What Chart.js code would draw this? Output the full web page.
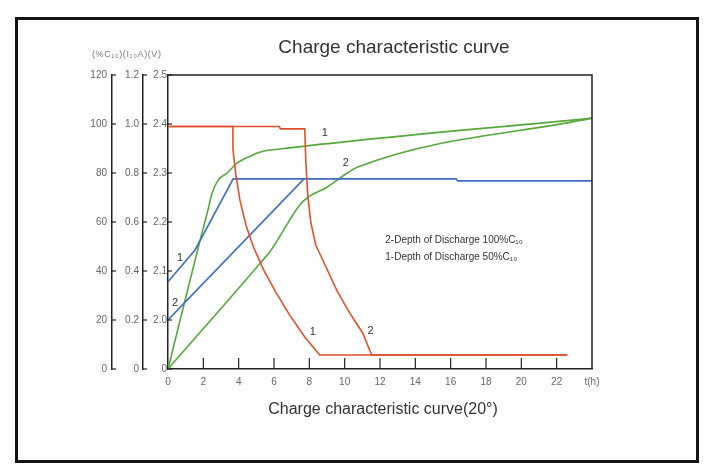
<!DOCTYPE html>
<html>
<head>
<meta charset="utf-8">
<script src="https://cdn.jsdelivr.net/npm/chart.js@4.4.0/dist/chart.umd.min.js"></script>
<style>
  html, body { margin: 0; padding: 0; background: #fff; }
  #wrap { position: relative; width: 712px; height: 475px; overflow: hidden; font-family: "Liberation Sans", Arial, sans-serif; }
  #frame { position: absolute; left: 15px; top: 17px; width: 678px; height: 440px; border: 3px solid #151515; }
  #chart { position: absolute; left: 0; top: 0; }
  .txt { position: absolute; color: #333; white-space: nowrap; }
</style>
</head>
<body>
<div id="wrap">
  <div id="frame"></div>
  <canvas id="chart" width="712" height="475"></canvas>
  <div class="txt" style="left:0;width:788px;top:36px;text-align:center;font-size:19px;">Charge characteristic curve</div>
  <div class="txt" style="left:0;width:766px;top:400px;text-align:center;font-size:16px;">Charge characteristic curve(20°)</div>
  <div class="txt" style="left:92px;top:49px;font-size:9px;letter-spacing:0.6px;color:#777;">(%C₁₀)(I₁₀A)(V)</div>
</div>
<script>
// tick values
const hourTicks = [0, 2, 4, 6, 8, 10, 12, 14, 16, 18, 20, 22, 24];
const pctTicks = [0, 20, 40, 60, 80, 100, 120];
const currentTicks = [0, 0.2, 0.4, 0.6, 0.8, 1.0, 1.2];
const voltTicks = [1.9, 2.0, 2.1, 2.2, 2.3, 2.4, 2.5];

// charged capacity (%C10)
const green1Hours = [0, 1.82, 2.22, 2.5, 2.84, 3.35, 3.92, 4.55, 5.23, 6.36, 24];
const green1Pct = [0, 52.7, 63.7, 71.8, 77.1, 80, 84.1, 86.5, 88.6, 89.8, 102.4];
const green2Hours = [0, 5.23, 5.8, 7.5, 7.95, 9.03, 10.06, 10.74, 24];
const green2Pct = [0, 43.3, 48.2, 67.3, 70.2, 74.3, 79.6, 82.4, 102.4];

// charge current (I10 A)
const red1Hours = [0, 3.67, 3.68, 3.84, 4.07, 4.41, 4.86, 5.42, 6.1, 6.89, 7.74, 8.59, 22.6];
const red1Current = [0.99, 0.99, 0.894, 0.792, 0.69, 0.588, 0.494, 0.404, 0.314, 0.22, 0.131, 0.057, 0.057];
const red2Hours = [0, 6.3, 6.36, 7.74, 7.8, 7.91, 8.08, 8.36, 8.76, 9.55, 10.28, 11.02, 11.53, 22.6];
const red2Current = [0.99, 0.99, 0.98, 0.98, 0.853, 0.71, 0.6, 0.506, 0.445, 0.322, 0.229, 0.147, 0.057, 0.057];

// battery voltage (V)
const blue1Hours = [0, 1.53, 3.69, 16.3, 16.4, 24];
const blue1Volt = [2.078, 2.143, 2.288, 2.288, 2.284, 2.284];
const blue2Hours = [0, 7.7];
const blue2Volt = [2.0, 2.288];

// curve numbers: [text, hours, value, axis]
const curveNumbers = [
  ["1", 8.87, 96.3, "yPct"], ["2", 10.06, 84.1, "yPct"],
  ["1", 8.19, 0.15, "yCur"], ["2", 11.47, 0.155, "yCur"],
  ["1", 0.68, 2.127, "yVolt"], ["2", 0.4, 2.035, "yVolt"]
];
const notes = ["2-Depth of Discharge 100%C₁₀", "1-Depth of Discharge 50%C₁₀"];

const RED = "#e0502c", GREEN = "#55a83c", BLUE = "#3d6fbf";
const pts = (xs, ys) => xs.map((x, i) => ({ x: x, y: ys[i] }));
const line = (data, color, axis, smooth) => ({
  data: data, borderColor: color, borderWidth: 1.6, pointRadius: 0,
  tension: 0, cubicInterpolationMode: smooth ? "monotone" : "default",
  fill: false, yAxisID: axis
});

const tickFont = { family: "Liberation Sans", size: 10 };
const yAxis = (weight, min, max, ticks, width, pad, fmt) => ({
  type: "linear", position: "left", weight: weight, min: min, max: max,
  afterBuildTicks: s => { s.ticks = ticks.map(v => ({ value: v })); },
  afterFit: s => { s.width = width; },
  grid: { display: true, drawOnChartArea: false, drawTicks: false },
  border: { color: "#222", width: 1.5 },
  ticks: { font: tickFont, color: "#666", padding: pad, callback: fmt }
});

// frame, inward tick marks, curve numbers and notes
const extras = {
  id: "extras",
  afterDraw(chart) {
    const ctx = chart.ctx, a = chart.chartArea, sc = chart.scales;
    ctx.save();
    ctx.strokeStyle = "#222";
    ctx.lineWidth = 1.5;
    ctx.beginPath();
    ctx.moveTo(a.left, a.top); ctx.lineTo(a.right, a.top); ctx.lineTo(a.right, a.bottom);
    ctx.stroke();
    ctx.lineWidth = 1.2;
    ["yPct", "yCur", "yVolt"].forEach(id => {
      const s = sc[id];
      s.ticks.forEach(t => {
        const y = s.getPixelForValue(t.value);
        ctx.beginPath(); ctx.moveTo(s.right, y); ctx.lineTo(s.right + 4, y); ctx.stroke();
      });
    });
    sc.x.ticks.forEach(t => {
      if (t.value <= 0 || t.value >= 24) return;
      const x = sc.x.getPixelForValue(t.value);
      ctx.beginPath(); ctx.moveTo(x, a.bottom); ctx.lineTo(x, a.bottom - 11); ctx.stroke();
    });
    ctx.fillStyle = "#333";
    ctx.font = "11px 'Liberation Sans'";
    ctx.textAlign = "center";
    ctx.textBaseline = "middle";
    curveNumbers.forEach(([txt, h, v, axis]) => {
      ctx.fillText(txt, sc.x.getPixelForValue(h), sc[axis].getPixelForValue(v));
    });
    ctx.font = "10px 'Liberation Sans'";
    ctx.textAlign = "left";
    ctx.fillText(notes[0], sc.x.getPixelForValue(12.3), sc.yPct.getPixelForValue(52.7));
    ctx.fillText(notes[1], sc.x.getPixelForValue(12.3), sc.yPct.getPixelForValue(45.7));
    ctx.restore();
  }
};

new Chart(document.getElementById("chart"), {
  type: "line",
  data: {
    datasets: [
      line(pts(red1Hours, red1Current), RED, "yCur", false),
      line(pts(red2Hours, red2Current), RED, "yCur", false),
      line(pts(blue1Hours, blue1Volt), BLUE, "yVolt", false),
      line(pts(blue2Hours, blue2Volt), BLUE, "yVolt", false),
      line(pts(green1Hours, green1Pct), GREEN, "yPct", true),
      line(pts(green2Hours, green2Pct), GREEN, "yPct", true)
    ]
  },
  options: {
    responsive: false,
    animation: false,
    layout: { padding: { left: 72, top: 75, right: 120, bottom: 76 } },
    plugins: { legend: { display: false }, tooltip: { enabled: false } },
    scales: {
      x: {
        type: "linear", min: 0, max: 24,
        afterBuildTicks: s => { s.ticks = hourTicks.map(v => ({ value: v })); },
        afterFit: s => { s.height = 30; },
        grid: { display: true, drawOnChartArea: false, drawTicks: false },
        border: { color: "#222", width: 1.5 },
        ticks: {
          font: tickFont, color: "#666", padding: 7, autoSkip: false, maxRotation: 0,
          callback: v => (v === 24 ? "t(h)" : v)
        }
      },
      yVolt: yAxis(0, 1.9, 2.5, voltTicks, 25, 1, v => (v < 1.95 ? "0" : v.toFixed(1))),
      yCur: yAxis(1, 0, 1.2, currentTicks, 31, 4, v => (v === 0 ? "0" : v.toFixed(1))),
      yPct: yAxis(2, 0, 120, pctTicks, 40, 5, v => v)
    }
  },
  plugins: [extras]
});
</script>
</body>
</html>
